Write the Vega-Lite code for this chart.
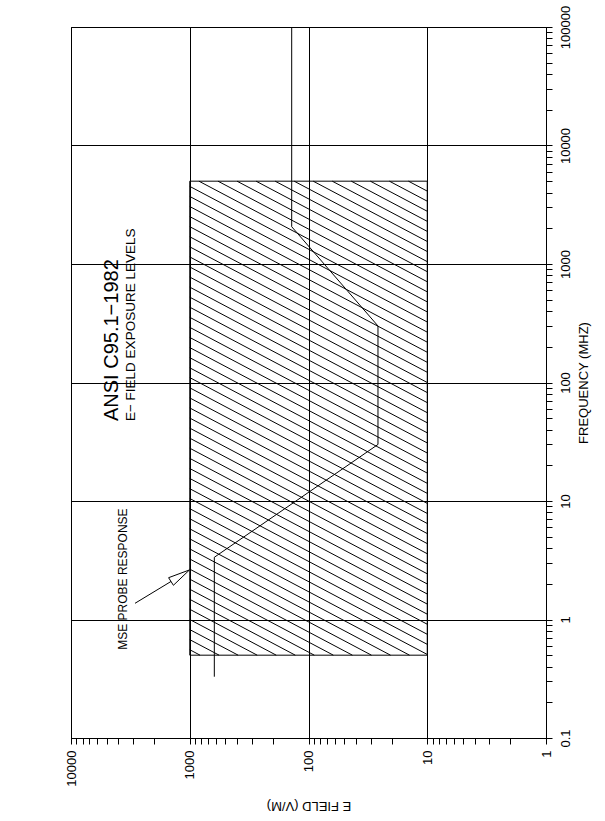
{
  "$schema": "https://vega.github.io/schema/vega-lite/v6.json",
  "autosize": "none",
  "padding": {"left": 71, "top": 27, "right": 59, "bottom": 83},
  "width": 475,
  "height": 711,
  "background": "white",
  "config": {
    "view": {"stroke": "black", "strokeWidth": 1},
    "font": "Liberation Sans"
  },
  "encoding": {
    "x": {
      "field": "E", "type": "quantitative",
      "scale": {"type": "log", "domain": [1, 10000], "reverse": true, "nice": false},
      "axis": {
        "title": "E  FIELD  (V/M)", "titleAngle": 180, "titleFontSize": 13, "titleFontWeight": "normal",
        "titleBaseline": "bottom", "titlePadding": 12, "titleColor": "black",
        "values": [1,2,3,4,5,6,7,8,9,10,20,30,40,50,60,70,80,90,100,200,300,400,500,600,700,800,900,1000,2000,3000,4000,5000,6000,7000,8000,9000,10000],
        "labelExpr": "abs(log(datum.value)/LN10 - round(log(datum.value)/LN10)) < 0.001 ? toString(datum.value) : ''",
        "labelAngle": -90, "labelAlign": "right", "labelBaseline": "middle", "labelFontSize": 13, "labelPadding": 6,
        "labelColor": "black", "labelFlush": false, "labelOverlap": false,
        "tickSize": 6, "tickColor": "black", "domainColor": "black",
        "grid": true, "gridColor": "black",
        "gridOpacity": {"condition": {"test": "abs(log(datum.value)/LN10 - round(log(datum.value)/LN10)) < 0.001", "value": 1}, "value": 0}
      }
    },
    "y": {
      "field": "f", "type": "quantitative",
      "scale": {"type": "log", "domain": [0.1, 100000], "nice": false},
      "axis": {
        "orient": "right",
        "title": "FREQUENCY  (MHZ)", "titleAngle": -90, "titleFontSize": 13, "titleFontWeight": "normal",
        "titleBaseline": "top", "titlePadding": 5, "titleColor": "black",
        "values": [0.1,0.2,0.3,0.4,0.5,0.6,0.7,0.8,0.9,1,2,3,4,5,6,7,8,9,10,20,30,40,50,60,70,80,90,100,200,300,400,500,600,700,800,900,1000,2000,3000,4000,5000,6000,7000,8000,9000,10000,20000,30000,40000,50000,60000,70000,80000,90000,100000],
        "labelExpr": "abs(log(datum.value)/LN10 - round(log(datum.value)/LN10)) < 0.001 ? toString(datum.value) : ''",
        "labelAngle": -90, "labelAlign": "center", "labelBaseline": "top", "labelFontSize": 13, "labelPadding": 7,
        "labelColor": "black", "labelFlush": false, "labelOverlap": false,
        "tickSize": 6, "tickColor": "black", "domainColor": "black",
        "grid": true, "gridColor": "black",
        "gridOpacity": {"condition": {"test": "abs(log(datum.value)/LN10 - round(log(datum.value)/LN10)) < 0.001", "value": 1}, "value": 0}
      }
    }
  },
  "layer": [
    {
      "data": {"values": [
        {"E": 14.40, "f": 5000, "E2": 10, "f2": 4121},
        {"E": 20.84, "f": 5000, "E2": 10, "f2": 3388},
        {"E": 30.15, "f": 5000, "E2": 10, "f2": 2786},
        {"E": 43.62, "f": 5000, "E2": 10, "f2": 2291},
        {"E": 63.10, "f": 5000, "E2": 10, "f2": 1884},
        {"E": 91.29, "f": 5000, "E2": 10, "f2": 1549},
        {"E": 132.1, "f": 5000, "E2": 10, "f2": 1274},
        {"E": 191.0, "f": 5000, "E2": 10, "f2": 1047},
        {"E": 276.4, "f": 5000, "E2": 10, "f2": 861},
        {"E": 399.8, "f": 5000, "E2": 10, "f2": 708},
        {"E": 578.5, "f": 5000, "E2": 10, "f2": 582},
        {"E": 836.7, "f": 5000, "E2": 10, "f2": 479},
        {"E": 1000, "f": 4519, "E2": 10, "f2": 394},
        {"E": 1000, "f": 3715, "E2": 10, "f2": 324},
        {"E": 1000, "f": 3055, "E2": 10, "f2": 266},
        {"E": 1000, "f": 2512, "E2": 10, "f2": 219},
        {"E": 1000, "f": 2065, "E2": 10, "f2": 180},
        {"E": 1000, "f": 1698, "E2": 10, "f2": 148},
        {"E": 1000, "f": 1396, "E2": 10, "f2": 122},
        {"E": 1000, "f": 1148, "E2": 10, "f2": 100},
        {"E": 1000, "f": 944, "E2": 10, "f2": 82.2},
        {"E": 1000, "f": 776, "E2": 10, "f2": 67.6},
        {"E": 1000, "f": 638, "E2": 10, "f2": 55.6},
        {"E": 1000, "f": 525, "E2": 10, "f2": 45.7},
        {"E": 1000, "f": 432, "E2": 10, "f2": 37.6},
        {"E": 1000, "f": 355, "E2": 10, "f2": 30.9},
        {"E": 1000, "f": 292, "E2": 10, "f2": 25.4},
        {"E": 1000, "f": 240, "E2": 10, "f2": 20.9},
        {"E": 1000, "f": 197, "E2": 10, "f2": 17.2},
        {"E": 1000, "f": 162, "E2": 10, "f2": 14.1},
        {"E": 1000, "f": 133, "E2": 10, "f2": 11.6},
        {"E": 1000, "f": 110, "E2": 10, "f2": 9.55},
        {"E": 1000, "f": 90.2, "E2": 10, "f2": 7.85},
        {"E": 1000, "f": 74.1, "E2": 10, "f2": 6.46},
        {"E": 1000, "f": 61.0, "E2": 10, "f2": 5.31},
        {"E": 1000, "f": 50.1, "E2": 10, "f2": 4.37},
        {"E": 1000, "f": 41.2, "E2": 10, "f2": 3.59},
        {"E": 1000, "f": 33.9, "E2": 10, "f2": 2.95},
        {"E": 1000, "f": 27.9, "E2": 10, "f2": 2.43},
        {"E": 1000, "f": 22.9, "E2": 10, "f2": 1.995},
        {"E": 1000, "f": 18.8, "E2": 10, "f2": 1.641},
        {"E": 1000, "f": 15.5, "E2": 10, "f2": 1.349},
        {"E": 1000, "f": 12.7, "E2": 10, "f2": 1.109},
        {"E": 1000, "f": 10.5, "E2": 10, "f2": 0.912},
        {"E": 1000, "f": 8.61, "E2": 10, "f2": 0.750},
        {"E": 1000, "f": 7.08, "E2": 10, "f2": 0.617},
        {"E": 1000, "f": 5.82, "E2": 10, "f2": 0.507},
        {"E": 1000, "f": 4.79, "E2": 14.10, "f2": 0.5},
        {"E": 1000, "f": 3.94, "E2": 20.39, "f2": 0.5},
        {"E": 1000, "f": 3.24, "E2": 29.50, "f2": 0.5},
        {"E": 1000, "f": 2.66, "E2": 42.68, "f2": 0.5},
        {"E": 1000, "f": 2.19, "E2": 61.75, "f2": 0.5},
        {"E": 1000, "f": 1.80, "E2": 89.33, "f2": 0.5},
        {"E": 1000, "f": 1.48, "E2": 129.2, "f2": 0.5},
        {"E": 1000, "f": 1.22, "E2": 186.9, "f2": 0.5},
        {"E": 1000, "f": 1.00, "E2": 270.4, "f2": 0.5},
        {"E": 1000, "f": 0.822, "E2": 391.2, "f2": 0.5},
        {"E": 1000, "f": 0.676, "E2": 566.0, "f2": 0.5},
        {"E": 1000, "f": 0.556, "E2": 818.9, "f2": 0.5}
      ]},
      "mark": {"type": "rule", "color": "black", "strokeWidth": 1},
      "encoding": {
        "x2": {"field": "E2"},
        "y2": {"field": "f2"}
      }
    },
    {
      "data": {"values": [{"E": 1000, "f": 5000, "E2": 10, "f2": 0.5}]},
      "mark": {"type": "rect", "fill": null, "fillOpacity": 0, "stroke": "black", "strokeWidth": 1},
      "encoding": {
        "x2": {"field": "E2"},
        "y2": {"field": "f2"}
      }
    },
    {
      "data": {"values": [
        {"E": 621, "f": 0.329, "o": 1},
        {"E": 621, "f": 3.35, "o": 2},
        {"E": 26, "f": 30, "o": 3},
        {"E": 26, "f": 300, "o": 4},
        {"E": 138.5, "f": 2064, "o": 5},
        {"E": 138.5, "f": 100000, "o": 6}
      ]},
      "mark": {"type": "line", "color": "black", "strokeWidth": 1},
      "encoding": {"order": {"field": "o", "type": "quantitative"}}
    },
    {
      "data": {"values": [{"E": 2891, "f": 1.37, "E2": 1439, "f2": 2.093}]},
      "mark": {"type": "rule", "color": "black", "strokeWidth": 1},
      "encoding": {
        "x2": {"field": "E2"},
        "y2": {"field": "f2"}
      }
    },
    {
      "data": {"values": [
        {"E": 1005, "f": 2.62, "o": 1},
        {"E": 1373, "f": 1.944, "o": 2},
        {"E": 1507, "f": 2.253, "o": 3},
        {"E": 1005, "f": 2.62, "o": 4}
      ]},
      "mark": {"type": "line", "color": "black", "strokeWidth": 1},
      "encoding": {"order": {"field": "o", "type": "quantitative"}}
    },
    {
      "data": {"values": [{"E": 4515, "f": 47.3, "label": "ANSI C95.1−1982"}]},
      "mark": {"type": "text", "angle": -90, "align": "left", "baseline": "middle", "fontSize": 20, "font": "Liberation Sans", "fill": "black"},
      "encoding": {"text": {"field": "label"}}
    },
    {
      "data": {"values": [{"E": 3124, "f": 47.3, "label": "E− FIELD EXPOSURE LEVELS"}]},
      "mark": {"type": "text", "angle": -90, "align": "left", "baseline": "middle", "fontSize": 13.5, "font": "Liberation Sans", "fill": "black"},
      "encoding": {"text": {"field": "label"}}
    },
    {
      "data": {"values": [{"E": 3631, "f": 0.555, "label": "MSE PROBE RESPONSE"}]},
      "mark": {"type": "text", "angle": -90, "align": "left", "baseline": "middle", "fontSize": 12, "font": "Liberation Sans", "fill": "black"},
      "encoding": {"text": {"field": "label"}}
    }
  ]
}
